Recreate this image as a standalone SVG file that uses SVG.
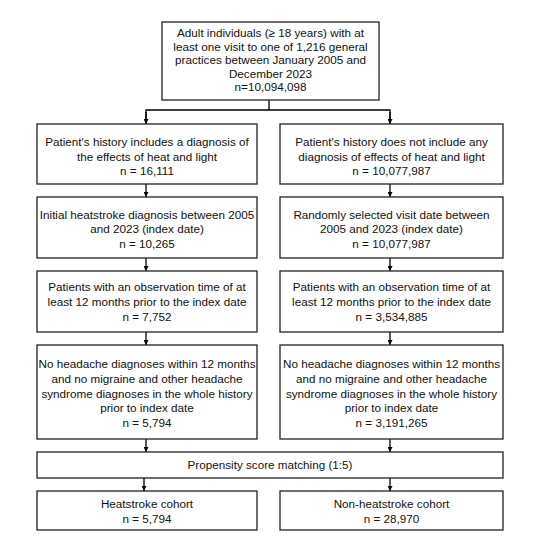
<svg xmlns="http://www.w3.org/2000/svg" width="550" height="550" viewBox="0 0 550 550">
<defs>
<marker id="ah" viewBox="0 0 10 10" refX="10" refY="5" markerWidth="5" markerHeight="5" markerUnits="userSpaceOnUse" orient="auto">
<path d="M0,0 L10,5 L0,10 z" fill="#000"/>
</marker>
<style>
.box{fill:#fff;stroke:#222;stroke-width:1.3}
.t{font-family:"Liberation Sans",Arial,sans-serif;font-size:11.7px;fill:#111;text-anchor:middle}
.c{fill:none;stroke:#000;stroke-width:1.3}
</style>
</defs>
<rect width="550" height="550" fill="#fff"/>
<g id="connectors">
<line class="c" x1="269" y1="100" x2="269" y2="110"/>
<polyline class="c" points="146,123.5 146,110 390,110 390,123.5" marker-start="none"/>
<line class="c" x1="146" y1="112" x2="146" y2="124" marker-end="url(#ah)"/>
<line class="c" x1="390" y1="112" x2="390" y2="124" marker-end="url(#ah)"/>
<line class="c" x1="146" y1="184" x2="146" y2="197" marker-end="url(#ah)"/>
<line class="c" x1="390" y1="184" x2="390" y2="197" marker-end="url(#ah)"/>
<line class="c" x1="146" y1="258" x2="146" y2="271" marker-end="url(#ah)"/>
<line class="c" x1="390" y1="258" x2="390" y2="271" marker-end="url(#ah)"/>
<line class="c" x1="146" y1="332" x2="146" y2="345" marker-end="url(#ah)"/>
<line class="c" x1="390" y1="332" x2="390" y2="345" marker-end="url(#ah)"/>
<line class="c" x1="146" y1="439" x2="146" y2="452" marker-end="url(#ah)"/>
<line class="c" x1="390" y1="439" x2="390" y2="452" marker-end="url(#ah)"/>
<line class="c" x1="144" y1="478" x2="144" y2="491" marker-end="url(#ah)"/>
<line class="c" x1="390" y1="478" x2="390" y2="491" marker-end="url(#ah)"/>
</g>
<g id="n0">
<rect class="box" x="162" y="22" width="217" height="78"/>
<text class="t" x="270.5" y="37">Adult individuals (≥ 18 years) with at</text>
<text class="t" x="270.5" y="50.5">least one visit to one of 1,216 general</text>
<text class="t" x="270.5" y="64">practices between January 2005 and</text>
<text class="t" x="270.5" y="77.5">December 2023</text>
<text class="t" x="270.5" y="91">n=10,094,098</text>
</g>
<g id="l1">
<rect class="box" x="37" y="124" width="220" height="60"/>
<text class="t" x="147" y="146">Patient's history includes a diagnosis of</text>
<text class="t" x="147" y="160.5">the effects of heat and light</text>
<text class="t" x="147" y="175">n = 16,111</text>
</g>
<g id="r1">
<rect class="box" x="280" y="124" width="223" height="60"/>
<text class="t" x="391.5" y="146">Patient's history does not include any</text>
<text class="t" x="391.5" y="160.5">diagnosis of effects of heat and light</text>
<text class="t" x="391.5" y="175">n = 10,077,987</text>
</g>
<g id="l2">
<rect class="box" x="37" y="197" width="220" height="61"/>
<text class="t" x="147" y="218.5">Initial heatstroke diagnosis between 2005</text>
<text class="t" x="147" y="233">and 2023 (index date)</text>
<text class="t" x="147" y="248">n = 10,265</text>
</g>
<g id="r2">
<rect class="box" x="280" y="197" width="223" height="61"/>
<text class="t" x="391.5" y="218.5">Randomly selected visit date between</text>
<text class="t" x="391.5" y="233">2005 and 2023 (index date)</text>
<text class="t" x="391.5" y="248">n = 10,077,987</text>
</g>
<g id="l3">
<rect class="box" x="37" y="271" width="220" height="61"/>
<text class="t" x="147" y="291">Patients with an observation time of at</text>
<text class="t" x="147" y="306">least 12 months prior to the index date</text>
<text class="t" x="147" y="321">n = 7,752</text>
</g>
<g id="r3">
<rect class="box" x="280" y="271" width="223" height="61"/>
<text class="t" x="391.5" y="291">Patients with an observation time of at</text>
<text class="t" x="391.5" y="306">least 12 months prior to the index date</text>
<text class="t" x="391.5" y="321">n = 3,534,885</text>
</g>
<g id="l4">
<rect class="box" x="37" y="345" width="220" height="94"/>
<text class="t" x="147" y="367.5">No headache diagnoses within 12 months</text>
<text class="t" x="147" y="382.5">and no migraine and other headache</text>
<text class="t" x="147" y="397.5">syndrome diagnoses in the whole history</text>
<text class="t" x="147" y="412">prior to index date</text>
<text class="t" x="147" y="427">n = 5,794</text>
</g>
<g id="r4">
<rect class="box" x="280" y="345" width="223" height="94"/>
<text class="t" x="391.5" y="367.5">No headache diagnoses within 12 months</text>
<text class="t" x="391.5" y="382.5">and no migraine and other headache</text>
<text class="t" x="391.5" y="397.5">syndrome diagnoses in the whole history</text>
<text class="t" x="391.5" y="412">prior to index date</text>
<text class="t" x="391.5" y="427">n = 3,191,265</text>
</g>
<g id="psm">
<rect class="box" x="37" y="452" width="466" height="26"/>
<text class="t" x="270" y="469">Propensity score matching (1:5)</text>
</g>
<g id="l5">
<rect class="box" x="37" y="491" width="220" height="39"/>
<text class="t" x="147" y="507.5">Heatstroke cohort</text>
<text class="t" x="147" y="522.5">n = 5,794</text>
</g>
<g id="r5">
<rect class="box" x="280" y="491" width="223" height="39"/>
<text class="t" x="391.5" y="507.5">Non-heatstroke cohort</text>
<text class="t" x="391.5" y="522.5">n = 28,970</text>
</g>
</svg>
